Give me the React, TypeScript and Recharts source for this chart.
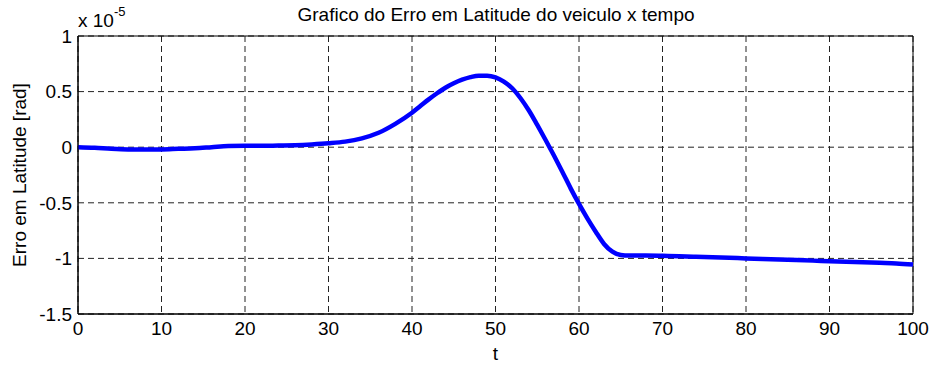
import React from 'react';
import { LineChart, Line, XAxis, YAxis, CartesianGrid, ReferenceArea } from 'recharts';

const times = [0, 2, 4, 6, 8, 10, 12, 14, 16, 18, 20, 22, 24, 26, 28, 30, 32, 34, 36, 38, 40, 41, 42, 43, 44, 45, 46, 47, 48, 49, 50, 51, 52, 53, 54, 55, 56, 57, 58, 59, 60, 61, 62, 63, 64, 65, 66, 68, 70, 72, 74, 76, 78, 80, 82, 84, 86, 88, 90, 92, 94, 96, 98, 100];
const erroLat = [0, -0.005, -0.015, -0.02, -0.02, -0.02, -0.015, -0.01, 0, 0.01, 0.012, 0.012, 0.015, 0.018, 0.025, 0.035, 0.05, 0.08, 0.13, 0.21, 0.31, 0.37, 0.43, 0.485, 0.535, 0.575, 0.607, 0.63, 0.643, 0.643, 0.628, 0.59, 0.53, 0.44, 0.33, 0.2, 0.065, -0.075, -0.22, -0.37, -0.51, -0.64, -0.76, -0.87, -0.94, -0.97, -0.975, -0.975, -0.977, -0.98, -0.985, -0.99, -0.995, -1.0, -1.005, -1.01, -1.015, -1.02, -1.025, -1.03, -1.035, -1.04, -1.045, -1.055];
const xTicks = [0, 10, 20, 30, 40, 50, 60, 70, 80, 90, 100];
const yTicks = [-1.5, -1, -0.5, 0, 0.5, 1];

const titleText = 'Grafico do Erro em Latitude do veiculo x tempo';
const xLabel = 't';
const yLabel = 'Erro em Latitude [rad]';

const data = times.map((t, i) => ({ t, v: erroLat[i] }));

const FONT = '"Liberation Sans", Arial, sans-serif';
const FS = 19;

export default function App() {
  return (
    <div style={{ position: 'absolute', left: 0, top: 0, width: 934, height: 365, background: '#fff', fontFamily: FONT }}>
      <LineChart width={934} height={365} data={data} margin={{ top: 36, right: 21, bottom: 0, left: 0 }}>
        <CartesianGrid stroke="#222" strokeDasharray="6 4" strokeWidth={1} />
        <XAxis
          dataKey="t"
          type="number"
          domain={[0, 100]}
          ticks={xTicks}
          height={51}
          stroke="#000"
          tickLine={false}
          tick={{ fill: '#000', fontSize: FS, fontFamily: FONT }}
          tickMargin={2}
          label={{ value: xLabel, position: 'insideBottom', offset: 5, fill: '#000', fontSize: FS, fontFamily: FONT }}
        />
        <YAxis
          type="number"
          domain={[-1.5, 1]}
          ticks={yTicks}
          width={78}
          stroke="#000"
          tickLine={false}
          tick={{ fill: '#000', fontSize: FS, fontFamily: FONT }}
          tickMargin={0}
          tickFormatter={(v: number) => String(v)}
          label={{ value: yLabel, angle: -90, position: 'insideLeft', offset: 19, fill: '#000', fontSize: FS, fontFamily: FONT, style: { textAnchor: 'middle' } }}
        />
        <ReferenceArea x1={0} x2={100} y1={-1.5} y2={1} fill="none" stroke="#000" strokeWidth={1} />
        <Line dataKey="v" type="monotone" stroke="#0000FF" strokeWidth={4.5} dot={false} isAnimationActive={false} />
        <text x={496} y={21} textAnchor="middle" fontSize={FS} fontFamily={FONT} fill="#000">{titleText}</text>
        <text x={78} y={27} fontSize={FS} fontFamily={FONT} fill="#000">
          x 10<tspan dy={-11} fontSize={13}>-5</tspan>
        </text>
      </LineChart>
    </div>
  );
}
